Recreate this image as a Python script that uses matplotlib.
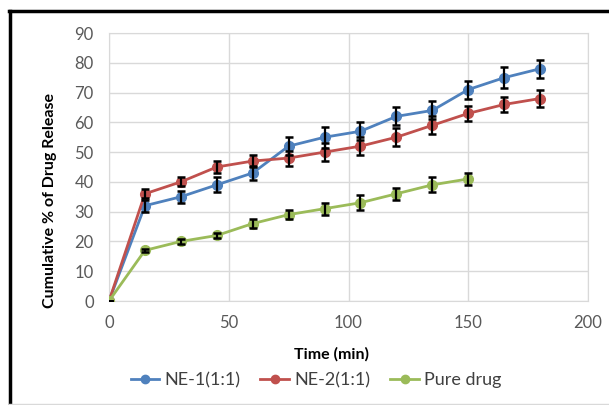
import matplotlib
matplotlib.use("Agg")
import matplotlib.pyplot as plt
from matplotlib.lines import Line2D

plt.rcParams['font.family'] = ['Lato', 'DejaVu Sans']

time = [0, 15, 30, 45, 60, 75, 90, 105, 120, 135, 150, 165, 180]
ne1 = [0, 32, 35, 39, 43, 52, 55, 57, 62, 64, 71, 75, 78]
ne1_err = [0, 2, 2, 2.5, 2.5, 3, 3.5, 3, 3, 3, 3, 3.5, 3]
ne2 = [0, 36, 40, 45, 47, 48, 50, 52, 55, 59, 63, 66, 68]
ne2_err = [0, 1.5, 1.5, 2, 2, 2.5, 3, 3, 3, 3, 2.5, 2.5, 3]
time_pure = [0, 15, 30, 45, 60, 75, 90, 105, 120, 135, 150]
pure = [0, 17, 20, 22, 26, 29, 31, 33, 36, 39, 41]
pure_err = [0, 0.5, 0.8, 1, 1.5, 1.5, 2, 2.5, 2, 2.5, 2]

labels = ['NE-1(1:1)', 'NE-2(1:1)', 'Pure drug']
colors = ['#4F81BD', '#C0504D', '#9BBB59']
xticks = [0, 50, 100, 150, 200]
yticks = list(range(0, 100, 10))

fig = plt.figure(figsize=(6.09, 4.05), dpi=100)
ax = fig.add_axes([109/609, 1-301/405, (588-109)/609, (301-33)/405])

series = [(time, ne1, ne1_err), (time, ne2, ne2_err), (time_pure, pure, pure_err)]
handles = []
for (x, y, e), lab, c in zip(series, labels, colors):
    h, = ax.plot(x, y, color=c, lw=2, marker='o', ms=7, label=lab, zorder=3)
    ax.errorbar(x, y, yerr=e, fmt='none', ecolor='black', elinewidth=1.6,
                capsize=2.8, capthick=1.8, zorder=4)
    handles.append(h)

ax.set_xlim(0, 200)
ax.set_ylim(0, 90)
ax.set_xticks(xticks)
ax.set_yticks(yticks)
ax.grid(True, color='#d9d9d9', lw=1)
ax.set_axisbelow(True)
for s in ax.spines.values():
    s.set_color('#d9d9d9')
ax.tick_params(length=0, labelsize=12, labelcolor='#595959')
ax.tick_params(axis='x', pad=10)
ax.tick_params(axis='y', pad=11)

fig.text(331/609, 1-354/405, 'Time (min)', ha='center', va='center',
         fontsize=11.5, fontweight='bold')
fig.text(50/609, 1-200/405, 'Cumulative % of Drug Release', ha='center',
         va='center', rotation=90, fontsize=11.5, fontweight='bold')

fig.legend(handles=[Line2D([], [], color=c, lw=2, marker='o', ms=6) for c in colors],
           labels=labels, loc='center',
           bbox_to_anchor=(316/609, 1-380/405), ncol=3, frameon=False,
           fontsize=13, handlelength=1.6, handletextpad=0.28, columnspacing=1.1,
           labelcolor='#404040')

# chart border
fig.add_artist(Line2D([9/609, 1], [1-11/405, 1-11/405], color='black', lw=2.5,
                      transform=fig.transFigure))
fig.add_artist(Line2D([10/609, 10/609], [1-11/405, 0], color='black', lw=2.5,
                      transform=fig.transFigure))
fig.add_artist(Line2D([9/609, 1], [1-403.5/405, 1-403.5/405], color='#d9d9d9',
                      lw=1, transform=fig.transFigure))

fig.savefig('out.png', dpi=100)
